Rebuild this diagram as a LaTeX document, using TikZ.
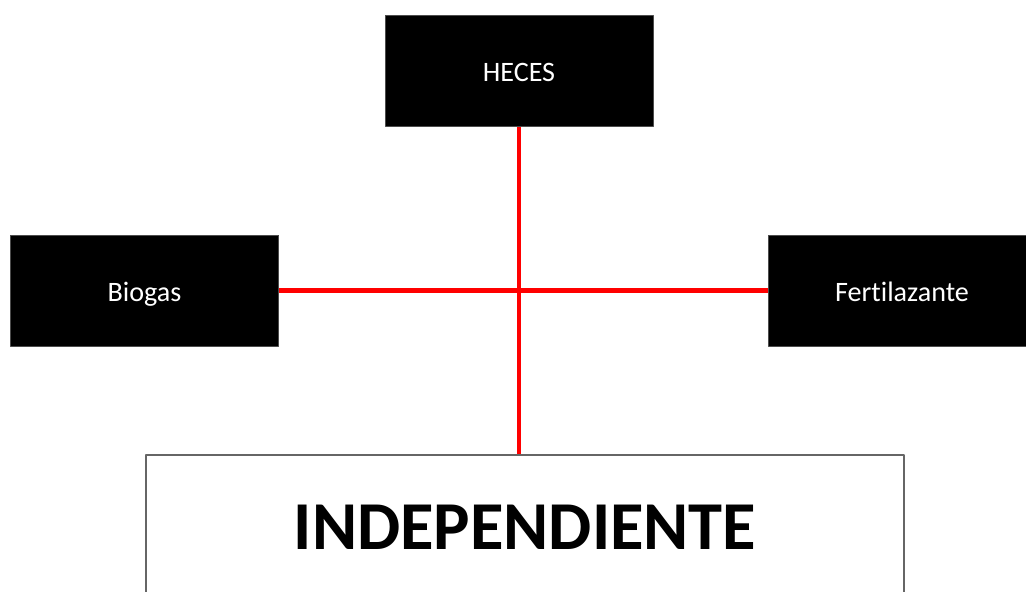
\documentclass[tikz,border=0pt]{standalone}
\usepackage{fontspec}
\setmainfont{Carlito}[Ligatures=NoCommon]
\usetikzlibrary{positioning}
\begin{document}
\begin{tikzpicture}[line join=round,
		caja/.style={fill=black, draw=black!70, line width=.4pt, text=white, minimum width=5.36cm, minimum height=2.22cm, text height=15pt, text depth=2.5pt, font=\fontsize{16}{19}\selectfont},
		enlace/.style={red, line width=2.8pt}]
		\useasboundingbox (0,0) rectangle (20.52,11.84);
		\node[caja] (heces) at (10.38,10.42) {HECES};
		\node[caja] (biogas) at (2.89,6.03) {Biogas};
		\node[caja] (fert) at (18.04,6.03) {Fertilazante};
		\node[draw=black!60, line width=.8pt, minimum width=15.16cm, minimum height=2.88cm, font=\fontsize{39}{47}\selectfont\bfseries] (indep) at (10.5,1.3) {INDEPENDIENTE};
		\draw[enlace] (biogas.east)--(fert.west);
		\draw[enlace] (heces.south)--(heces.south |- indep.north);
	\end{tikzpicture}
\end{document}
